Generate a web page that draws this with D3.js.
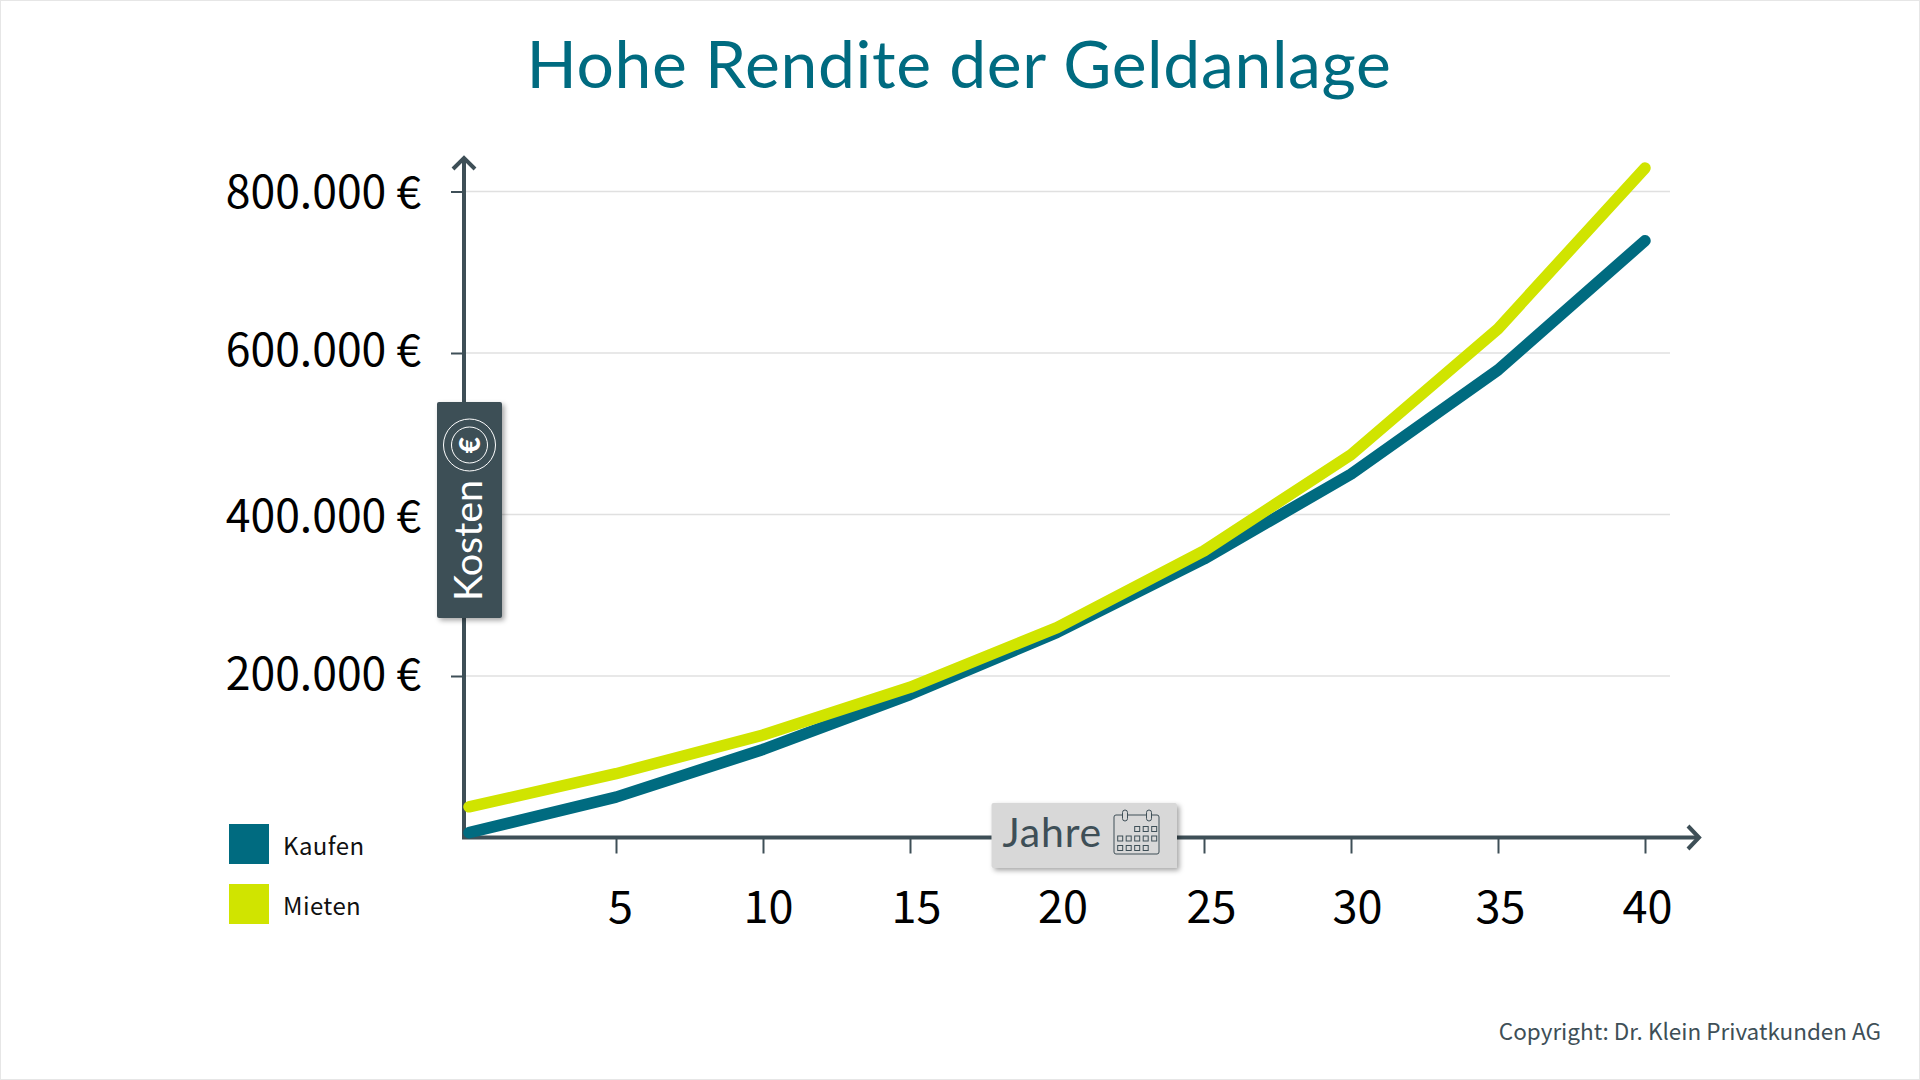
<!DOCTYPE html>
<html>
<head>
<meta charset="utf-8">
<script src="https://cdn.jsdelivr.net/npm/d3@7"></script>
<style>
  html, body { margin: 0; padding: 0; background: #fff; }
  svg { display: block; }
  .axis text { font-family: "Noto Sans CJK SC", "Noto Sans", sans-serif; fill: #000; }
</style>
</head>
<body>
<div id="chart"></div>
<script>
const years = [0, 5, 10, 15, 20, 25, 30, 35, 40];
const kaufen = [6000, 50000, 109000, 177000, 254000, 345000, 450000, 579000, 739000];
const mieten = [38000, 79000, 127000, 186000, 260000, 355000, 474000, 630000, 829000];
const xTicks = [5, 10, 15, 20, 25, 30, 35, 40];
const yTicks = [200000, 400000, 600000, 800000];
const legendNames = ["Kaufen", "Mieten"];

const teal = "#006b80";
const lime = "#d0e400";
const slate = "#3e4f57";

const width = 1920;
const height = 1080;

const svg = d3
  .select("#chart")
  .append("svg")
  .attr("width", width)
  .attr("height", height);

// shadow for the two axis badges
const shadow = svg
  .append("defs")
  .append("filter")
  .attr("id", "shadow")
  .attr("x", "-20%")
  .attr("y", "-20%")
  .attr("width", "140%")
  .attr("height", "140%");
shadow
  .append("feDropShadow")
  .attr("dx", 2.5)
  .attr("dy", 2.5)
  .attr("stdDeviation", 2.5)
  .attr("flood-color", "#000")
  .attr("flood-opacity", 0.35);

// frame
svg
  .append("rect")
  .attr("x", 0.5)
  .attr("y", 0.5)
  .attr("width", width - 1)
  .attr("height", height - 1)
  .attr("fill", "none")
  .attr("stroke", "#e6e6e6");

// Scales
const xScale = d3.scaleLinear().domain([0, 40]).range([469, 1645]);
const yScale = d3.scaleLinear().domain([0, 800000]).range([837.5, 191.5]);

// Title
svg
  .append("text")
  .attr("x", 959)
  .attr("y", 88)
  .attr("text-anchor", "middle")
  .attr("font-family", "Lato, sans-serif")
  .attr("font-size", 66)
  .attr("letter-spacing", 0.65)
  .attr("fill", teal)
  .text("Hohe Rendite der Geldanlage");

// Grid
svg
  .append("g")
  .selectAll("line")
  .data(yTicks)
  .join("line")
  .attr("x1", 464)
  .attr("x2", 1670)
  .attr("y1", (d) => yScale(d))
  .attr("y2", (d) => yScale(d))
  .attr("stroke", "#e0e0e0")
  .attr("stroke-width", 1.3);

// Axes
const xAxis = d3
  .axisBottom(xScale)
  .tickValues(xTicks)
  .tickSize(16)
  .tickPadding(37.5);
const xAxisGroup = svg
  .append("g")
  .attr("class", "axis")
  .attr("transform", "translate(0,837.5)")
  .call(xAxis);
xAxisGroup.select(".domain").remove();
xAxisGroup.selectAll("line").attr("stroke", slate).attr("stroke-width", 2);
// the labels are not quite evenly placed in the original
const xLabelShift = [4, 5, 6, 5.5, 7, 6, 2, 2];
xAxisGroup
  .selectAll("text")
  .attr("font-size", 45)
  .attr("dx", (d, i) => xLabelShift[i]);

const yAxis = d3
  .axisLeft(yScale)
  .tickValues(yTicks)
  .tickSize(13)
  .tickPadding(30)
  .tickFormat((d) => d3.format(",")(d).replace(",", ".") + " €");
const yAxisGroup = svg
  .append("g")
  .attr("class", "axis")
  .attr("transform", "translate(464,0)")
  .call(yAxis);
yAxisGroup.select(".domain").remove();
yAxisGroup.selectAll("line").attr("stroke", slate).attr("stroke-width", 2);
const yLabelShift = [-2, 1.5, -3, 1];
yAxisGroup
  .selectAll("text")
  .attr("font-size", 44.5)
  .attr("dy", (d, i) => yLabelShift[i] + 15);

// Axis arrows
const arrowLine = d3.line();
const axisPaths = [
  [[464, 158], [464, 839]],
  [[462, 837.5], [1699, 837.5]],
  [[453, 169], [464, 158], [475, 169]],
  [[1688, 826], [1699, 837.5], [1688, 849]],
];
svg
  .append("g")
  .selectAll("path")
  .data(axisPaths)
  .join("path")
  .attr("d", (d) => arrowLine(d))
  .attr("fill", "none")
  .attr("stroke", slate)
  .attr("stroke-width", 4);

// Lines
const line = d3
  .line()
  .x((d, i) => xScale(years[i]))
  .y((d) => yScale(d));

svg
  .append("g")
  .selectAll("path")
  .data([kaufen, mieten])
  .join("path")
  .attr("d", (d) => line(d))
  .attr("fill", "none")
  .attr("stroke", (d, i) => [teal, lime][i])
  .attr("stroke-width", 11.5)
  .attr("stroke-linecap", "round")
  .attr("stroke-linejoin", "round");

// Legend
const legend = svg
  .append("g")
  .selectAll("g")
  .data(legendNames)
  .join("g")
  .attr("transform", (d, i) => `translate(229,${824 + i * 60})`);
legend
  .append("rect")
  .attr("width", 40)
  .attr("height", 40)
  .attr("fill", (d, i) => [teal, lime][i]);
legend
  .append("text")
  .attr("x", 54)
  .attr("y", 31)
  .attr("font-family", '"Noto Sans CJK SC", sans-serif')
  .attr("font-size", 24)
  .attr("letter-spacing", 0.4)
  .attr("fill", "#111")
  .text((d) => d);

// Kosten badge
const kosten = svg.append("g").attr("transform", "translate(437,402)");
kosten
  .append("rect")
  .attr("width", 65)
  .attr("height", 216)
  .attr("rx", 2)
  .attr("fill", slate)
  .attr("filter", "url(#shadow)");
kosten
  .selectAll("circle")
  .data([26, 18])
  .join("circle")
  .attr("cx", 32.5)
  .attr("cy", 43)
  .attr("r", (d) => d)
  .attr("fill", "none")
  .attr("stroke", "#fff")
  .attr("stroke-width", 1);
kosten
  .append("text")
  .attr("transform", "translate(32.5,43) rotate(-90)")
  .attr("text-anchor", "middle")
  .attr("dy", "0.36em")
  .attr("font-family", "Lato, sans-serif")
  .attr("font-weight", 900)
  .attr("font-size", 28)
  .attr("fill", "#fff")
  .text("€");
kosten
  .append("text")
  .attr("transform", "translate(45,199) rotate(-90)")
  .attr("font-family", "Lato, sans-serif")
  .attr("font-size", 39.5)
  .attr("fill", "#fff")
  .text("Kosten");

// Jahre badge
const jahre = svg.append("g").attr("transform", "translate(991.5,803)");
jahre
  .append("rect")
  .attr("width", 185.5)
  .attr("height", 65)
  .attr("rx", 2)
  .attr("fill", "#d8d8d8")
  .attr("filter", "url(#shadow)");
jahre
  .append("text")
  .attr("x", 11)
  .attr("y", 44)
  .attr("font-family", "Lato, sans-serif")
  .attr("font-size", 41)
  .attr("letter-spacing", 0.8)
  .attr("fill", slate)
  .text("Jahre");

// calendar icon
const cal = jahre
  .append("g")
  .attr("transform", "translate(122.5,7)")
  .attr("fill", "none")
  .attr("stroke", slate)
  .attr("stroke-width", 1);
cal
  .append("rect")
  .attr("y", 5)
  .attr("width", 45)
  .attr("height", 39)
  .attr("rx", 2);
cal
  .selectAll(".ring")
  .data([11, 35])
  .join("rect")
  .attr("class", "ring")
  .attr("x", (d) => d - 2.5)
  .attr("y", 0)
  .attr("width", 5)
  .attr("height", 11)
  .attr("rx", 2.5)
  .attr("fill", "#d8d8d8");
const calCells = [
  [2, 0], [3, 0], [4, 0],
  [0, 1], [1, 1], [2, 1], [3, 1], [4, 1],
  [0, 2], [1, 2], [2, 2], [3, 2],
];
cal
  .selectAll(".cell")
  .data(calCells)
  .join("rect")
  .attr("class", "cell")
  .attr("x", (d) => 3.7 + d[0] * 8.5)
  .attr("y", (d) => 16.5 + d[1] * 9.5)
  .attr("width", 5)
  .attr("height", 5);

// Copyright
svg
  .append("text")
  .attr("x", 1881)
  .attr("y", 1040)
  .attr("text-anchor", "end")
  .attr("font-family", '"Noto Sans CJK SC", sans-serif')
  .attr("font-size", 22.5)
  .attr("fill", slate)
  .text("Copyright: Dr. Klein Privatkunden AG");
</script>
</body>
</html>
